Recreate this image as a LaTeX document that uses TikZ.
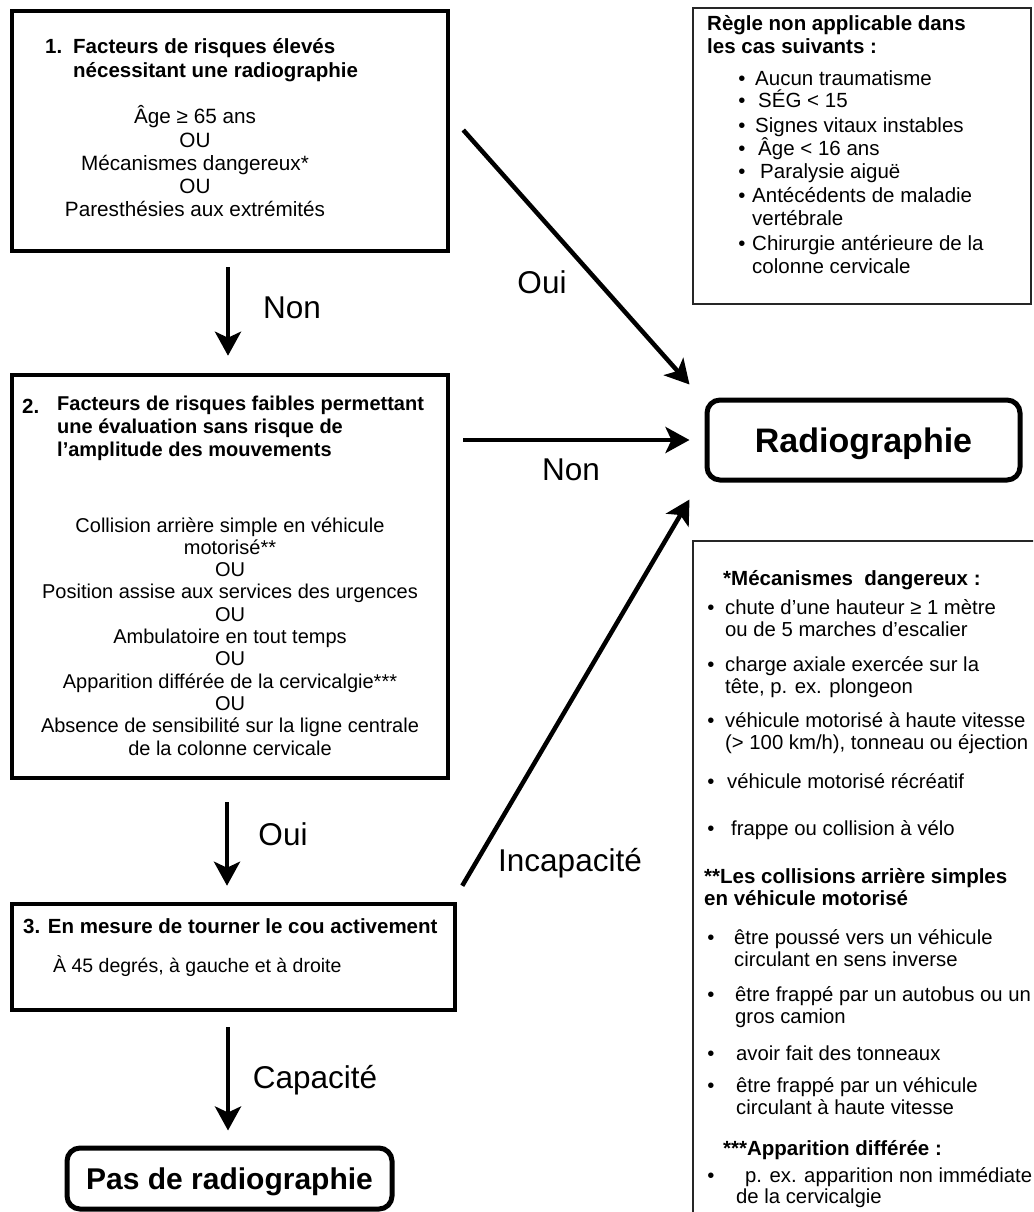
\documentclass[tikz,border=0pt]{standalone}
\usepackage{fontspec}
\setmainfont{Liberation Sans}
\usetikzlibrary{arrows.meta}
\begin{document}
\begin{tikzpicture}[x=1pt,y=-1pt,
  thickbox/.style={draw, line width=4.5pt, inner sep=0pt, rectangle},
  roundbox/.style={draw, line width=5pt, rounded corners=13pt, inner sep=0pt, text depth=0pt},
  notebox/.style={draw=black!85, line width=1.4pt, inner sep=0pt, rectangle},
  txt/.style={inner sep=0pt, anchor=base west, font=\fontsize{20.5}{24}\selectfont},
  ntxt/.style={inner sep=0pt, anchor=base west, font=\fontsize{20.3}{24}\selectfont},
  btxt/.style={inner sep=0pt, anchor=base west, font=\bfseries\fontsize{20.5}{24}\selectfont},
  ctxt/.style={inner sep=0pt, anchor=base, font=\fontsize{20.3}{24}\selectfont},
  bul/.style={inner sep=0pt, anchor=base, font=\fontsize{20.3}{24}\selectfont},
  lbl/.style={inner sep=0pt, anchor=base, font=\fontsize{31.5}{36}\selectfont},
  arr/.style={line width=4.5pt, -{Stealth[length=24pt,width=26pt,inset=6pt]}},
]
\useasboundingbox (0,0) rectangle (1033,1212);
\fill[white] (0,0) rectangle (1033,1212);
\clip (0,0) rectangle (1033,1212);

% ---------- boxes ----------
\node[thickbox, minimum width=436pt, minimum height=240pt] (box1) at (230,131) {};
\node[thickbox, minimum width=436pt, minimum height=403pt] (box2) at (230,576.5) {};
\node[thickbox, minimum width=443pt, minimum height=106pt] (box3) at (233.5,957) {};
\node[roundbox, minimum width=325pt, minimum height=61pt,
      font=\bfseries\fontsize{30}{34}\selectfont] (pas) at (229.5,1178.5) {Pas de radiographie};
\node[roundbox, minimum width=313pt, minimum height=80pt,
      font=\bfseries\fontsize{34}{38}\selectfont] (radio) at (863.5,440) {Radiographie};
\node[notebox, minimum width=338pt, minimum height=296pt] (rule) at (862,156) {};
\node[notebox, minimum width=352pt, minimum height=689pt] (foot) at (869,885.5) {};

% ---------- box 1 text ----------
\node[btxt] (t1n) at (45,54) {1.};
\node[btxt] (t1a) at (73,54) {Facteurs de risques élevés};
\node[btxt] (t1b) at (73,78) {nécessitant une radiographie};
\foreach \t [count=\i] in {Âge ≥ 65 ans, OU, Mécanismes dangereux*, OU, Paresthésies aux extrémités}
  \node[ctxt, font=\fontsize{20.7}{24}\selectfont] (b1body\i) at (195,{124+(\i-1)*23}) {\t};

% ---------- box 2 text ----------
\node[btxt] (t2n) at (22,413) {2.};
\node[btxt, font=\bfseries\fontsize{20}{24}\selectfont] (t2a) at (57,410) {Facteurs de risques faibles permettant};
\node[btxt, font=\bfseries\fontsize{20}{24}\selectfont] (t2b) at (57,433) {une évaluation sans risque de};
\node[btxt, font=\bfseries\fontsize{20}{24}\selectfont] (t2c) at (57,456) {l’amplitude des mouvements};
\foreach \t [count=\i] in {Collision arrière simple en véhicule, motorisé**, OU,
  Position assise aux services des urgences, OU, Ambulatoire en tout temps, OU,
  Apparition différée de la cervicalgie***, OU,
  Absence de sensibilité sur la ligne centrale, de la colonne cervicale}
  \node[ctxt, font=\fontsize{20}{24}\selectfont] (b2body\i) at (230,{532+(\i-1)*22.3}) {\t};

% ---------- box 3 text ----------
\node[btxt] (t3a) at (23,933) {3. En mesure de tourner le cou activement};
\node[txt, font=\fontsize{19.5}{23}\selectfont] (t3b) at (53,972) {À 45 degrés, à gauche et à droite};

% ---------- rule box text ----------
\node[btxt] (r1) at (707,31) {Règle non applicable dans};
\node[btxt] (r2) at (707,54) {les cas suivants :};
\foreach \y/\x/\t [count=\i] in {86/755/Aucun traumatisme, 108/758/SÉG < 15,
  132/755/Signes vitaux instables, 155/758/Âge < 16 ans, 178/760/Paralysie aiguë,
  202/752/Antécédents de maladie, 250/752/Chirurgie antérieure de la}
  {\node[bul] (rb\i) at (742,\y) {•};
   \node[ntxt, font=\fontsize{20.5}{24}\selectfont] (ri\i) at (\x,\y) {\t};}
\node[ntxt, font=\fontsize{20.5}{24}\selectfont] (ri6b) at (752,225) {vertébrale};
\node[ntxt, font=\fontsize{20.5}{24}\selectfont] (ri7b) at (752,273) {colonne cervicale};

% ---------- footnote box text ----------
\node[btxt] (f0) at (723,585) {*Mécanismes\ \ dangereux :};
\foreach \y/\x/\t [count=\i] in {614/725/{chute d’une hauteur ≥ 1 mètre},
  671/725/{charge axiale exercée sur la},
  727/725/{véhicule motorisé à haute vitesse},
  788/727/{véhicule motorisé récréatif},
  835/731/{frappe ou collision à vélo}}
  {\node[bul] (fb\i) at (711,\y) {•};
   \node[ntxt] (fi\i) at (\x,\y) {\t};}
\node[ntxt] (fi1b) at (725,636) {ou de 5 marches d’escalier};
\node[ntxt] (fi2b) at (725,693) {tête, p. ex. plongeon};
\node[ntxt] (fi3b) at (725,749) {(> 100 km/h), tonneau ou éjection};

\node[btxt] (g0a) at (704,883) {**Les collisions arrière simples};
\node[btxt] (g0b) at (704,905) {en véhicule motorisé};
\foreach \y/\x/\t [count=\i] in {944/734/{être poussé vers un véhicule},
  1001/735/{être frappé par un autobus ou un},
  1060/736/{avoir fait des tonneaux},
  1092/736/{être frappé par un véhicule}}
  {\node[bul] (gb\i) at (711,\y) {•};
   \node[ntxt] (gi\i) at (\x,\y) {\t};}
\node[ntxt] (gi1b) at (734,966) {circulant en sens inverse};
\node[ntxt] (gi2b) at (735,1023) {gros camion};
\node[ntxt] (gi4b) at (736,1114) {circulant à haute vitesse};

\node[btxt] (h0) at (723,1155) {***Apparition différée :};
\node[bul] (hb1) at (711,1182) {•};
\node[ntxt] (hi1) at (745,1182) {p. ex. apparition non immédiate};
\node[ntxt] (hi1b) at (736,1203) {de la cervicalgie};

% ---------- connectors ----------
\draw[arr, shorten <=14pt, shorten >=17pt] ([xshift=-2pt]box1.south) -- ([xshift=-2pt]box2.north);
\draw[arr, shorten <=22pt, shorten >=16pt] ([xshift=-3pt]box2.south) -- ([xshift=-6.5pt]box3.north);
\draw[arr, shorten <=15pt, shorten >=15pt] ([xshift=-5.5pt]box3.south) -- ([xshift=-1.5pt]pas.north);
\draw[arr] ([shift={(13,-1)}]box1.east) -- ([shift={(-15,-13)}]radio.north west);
\draw[arr] ([xshift=13pt]box2.east |- radio.west) -- ([xshift=-15pt]radio.west);
\draw[arr] ([shift={(5,-16)}]box3.north east) -- ([shift={(-15,17)}]radio.south west);

% ---------- connector labels ----------
\node[lbl] (lnon1) at (292,318) {Non};
\node[lbl] (loui1) at (283,845) {Oui};
\node[lbl] (lcap) at (315,1088) {Capacité};
\node[lbl] (loui2) at (542,293) {Oui};
\node[lbl] (lnon2) at (571,480) {Non};
\node[lbl] (linc) at (570,871) {Incapacité};
\end{tikzpicture}
\end{document}
